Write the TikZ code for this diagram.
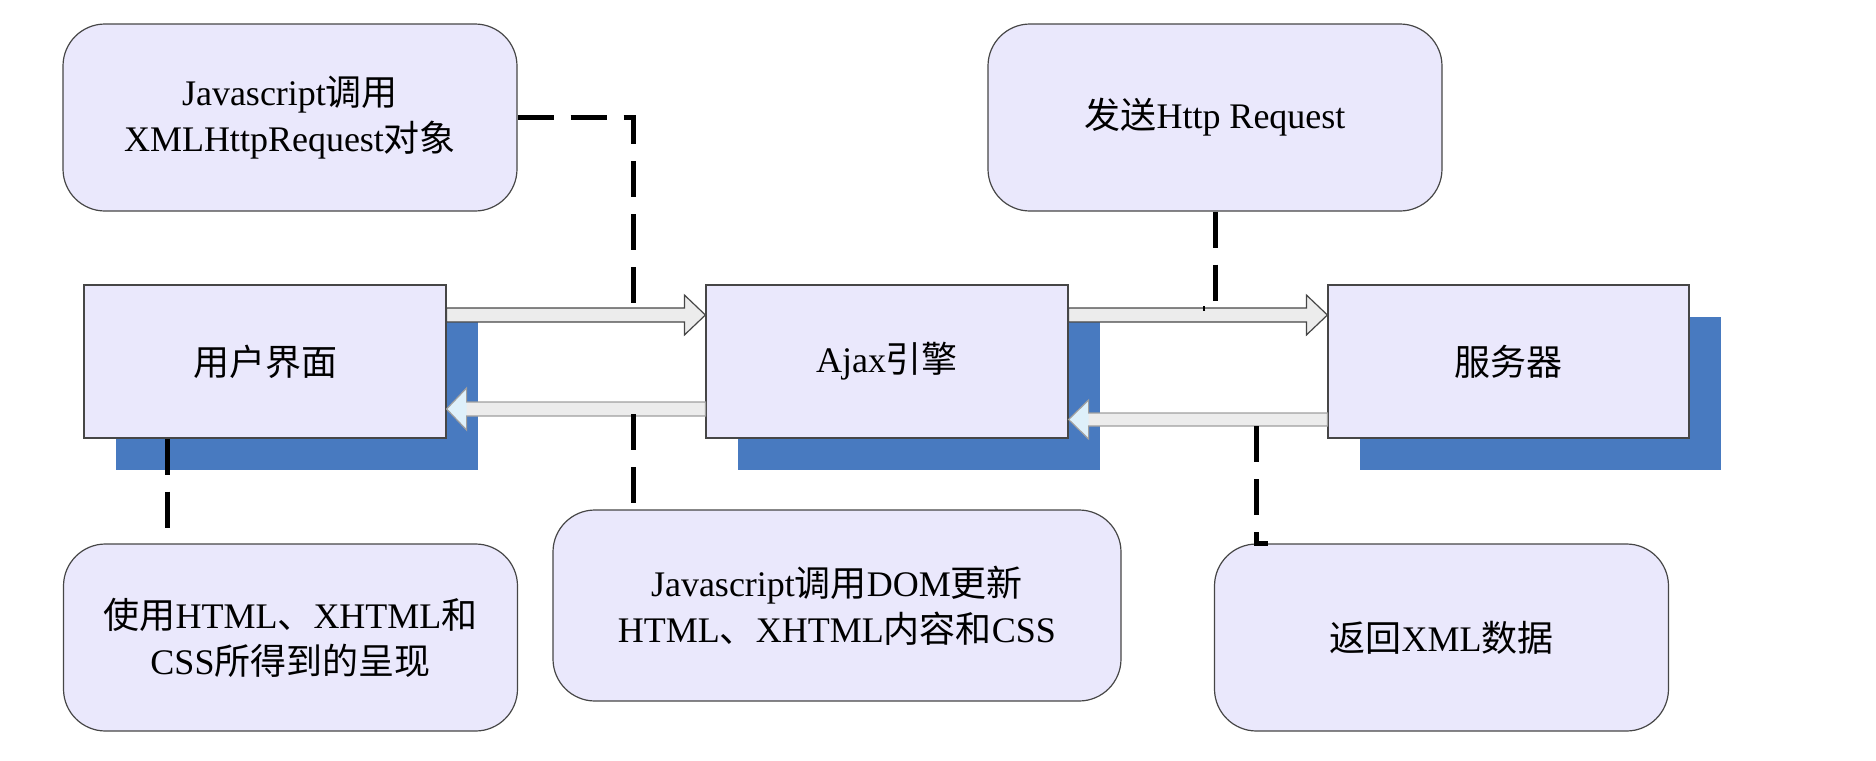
\documentclass[tikz,border=0pt]{standalone}
\usepackage{fontspec}
\setmainfont{Liberation Serif}
\newfontfamily\cjk{Noto Sans CJK SC}
\usetikzlibrary{shadows,calc}
\definecolor{boxfill}{RGB}{234,232,252}
\definecolor{shadowblue}{RGB}{72,122,192}
\definecolor{edge}{RGB}{70,70,70}
\definecolor{arrowfill}{RGB}{236,236,236}
\definecolor{headfill}{RGB}{222,240,250}
\newcommand\fatright[6]{% #1 tail, #2 tip, #3 yc, #4 half shaft, #5 half head, #6 head length
  \path[fill=arrowfill, draw=edge, line width=0.6pt] let \p1=(#1), \p2=(#2) in
    (\x1,{#3+#4}) -- ({\x2-#6},{#3+#4}) -- ({\x2-#6},{#3+#5}) -- (\x2,#3)
    -- ({\x2-#6},{#3-#5}) -- ({\x2-#6},{#3-#4}) -- (\x1,{#3-#4}) -- cycle;}
\newcommand\fatleft[6]{% #1 tip, #2 tail, #3 yc, #4 half shaft, #5 half head, #6 head length
  \path[fill=arrowfill] let \p1=(#1), \p2=(#2) in
    (\x2,{#3+#4}) -- ({\x1+#6},{#3+#4}) -- ({\x1+#6},{#3+#5}) -- (\x1,#3)
    -- ({\x1+#6},{#3-#5}) -- ({\x1+#6},{#3-#4}) -- (\x2,{#3-#4}) -- cycle;
  \path[fill=headfill] let \p1=(#1) in
    ({\x1+#6},{#3+#5}) -- (\x1,#3) -- ({\x1+#6},{#3-#5}) -- cycle;
  \path[draw=gray!75, line width=0.6pt] let \p1=(#1), \p2=(#2) in
    (\x2,{#3+#4}) -- ({\x1+#6},{#3+#4}) -- ({\x1+#6},{#3+#5}) -- (\x1,#3)
    -- ({\x1+#6},{#3-#5}) -- ({\x1+#6},{#3-#4}) -- (\x2,{#3-#4}) -- cycle;}
\tikzset{
  txt/.style={font=\fontsize{18pt}{23pt}\selectfont, align=center, inner sep=0pt},
  block/.style={txt, draw=edge, line width=0.6pt, fill=boxfill,
    minimum width=181pt, minimum height=76.5pt,
    drop shadow={shadow xshift=16pt, shadow yshift=-16pt, fill=shadowblue, opacity=1}},
  callout/.style={txt, draw=edge, line width=0.6pt, fill=boxfill, rounded corners=21pt,
    minimum width=227pt, minimum height=93.5pt},
  dashline/.style={line width=2.5pt, black},
}
\begin{document}
\begin{tikzpicture}[x=0.5pt, y=-0.5pt]
\useasboundingbox (0,0) rectangle (1876,761);
% main blocks
\node[block] (ui) at (265,361.5) {{\cjk 用户界面}};
\node[block] (ajax) at (887,361.5) {Ajax{\cjk 引擎}};
\node[block, minimum width=180.5pt] (server) at (1508.5,361.5) {{\cjk 服务器}};
% callouts
\node[callout] (A) at (290,117.5) {Javascript{\cjk 调用}\\XMLHttpRequest{\cjk 对象}};
\node[callout] (B) at (1215,117.5) {{\cjk 发送}Http Request};
\node[callout] (C) at (290.5,637.5) {{\cjk 使用}HTML{\cjk 、}XHTML{\cjk 和}\\CSS{\cjk 所得到的呈现}};
\node[callout, minimum width=284pt, minimum height=95.5pt] (D) at (837,605.5) {Javascript{\cjk 调用}DOM{\cjk 更新}\\HTML{\cjk 、}XHTML{\cjk 内容和}CSS};
\node[callout] (E) at (1441.5,637.5) {{\cjk 返回}XML{\cjk 数据}};
% fat arrows
\fatright{ui.east}{ajax.west}{-157.5pt}{3.5pt}{10pt}{10.5pt}
\fatleft{ui.east}{ajax.west}{-204.5pt}{3.5pt}{10.5pt}{10pt}
\fatright{ajax.east}{server.west}{-157.5pt}{3.5pt}{10pt}{10.5pt}
\fatleft{ajax.east}{server.west}{-209.75pt}{3.25pt}{9.75pt}{10pt}
% dashed connectors
\coordinate (c1) at (633,0);
\coordinate (c2) at (1203,308);
\coordinate (c3) at (167,0);
\coordinate (c4) at (1256,426);
\coordinate (c4e) at (1268,0);
\draw[dashline, dash pattern=on 18pt off 8.5pt on 18pt off 8.5pt on 18pt off 8.5pt on 18pt off 8.5pt on 18pt off 8.5pt on 18pt off 55.5pt on 18pt off 8.5pt on 18pt off 8.5pt]
  (A.east) -| (c1 |- D.north);
\draw[dashline, dash pattern=on 18pt off 8.5pt] (B.south) |- (c2);
\draw[dashline, dash pattern=on 18pt off 8.5pt] (ui.south -| c3) -- (c3 |- C.north);
\draw[dashline, dash pattern=on 18pt off 8.5pt] (c4) |- (c4e |- E.north);
\end{tikzpicture}
\end{document}
